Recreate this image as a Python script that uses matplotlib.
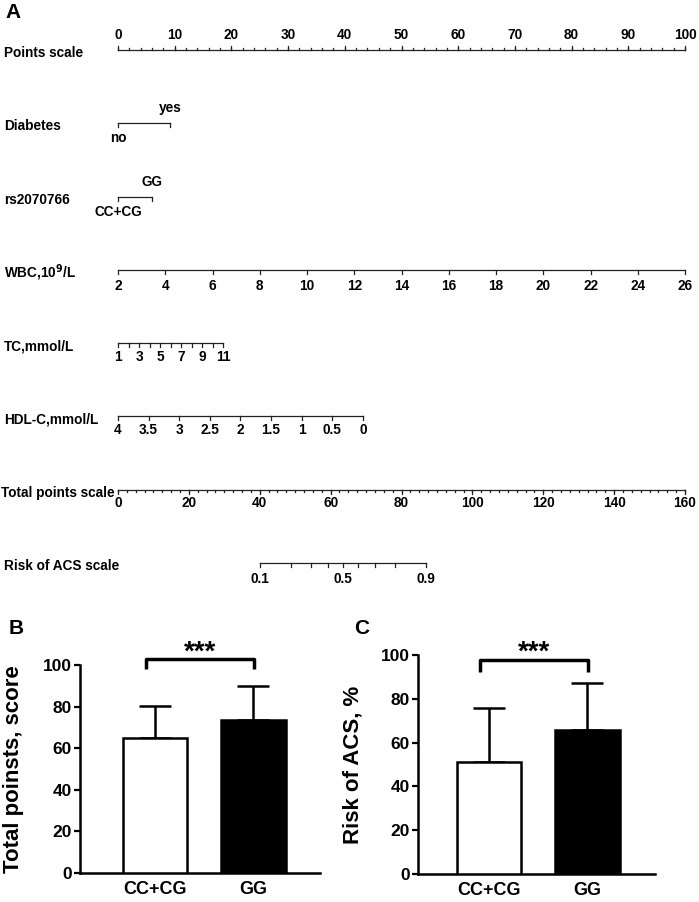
import numpy as np
import matplotlib
matplotlib.use('Agg')
import matplotlib.pyplot as plt
from matplotlib import transforms

plt.rcParams['font.family'] = ['Liberation Sans', 'DejaVu Sans']
plt.rcParams['font.weight'] = 'bold'
plt.rcParams['axes.labelweight'] = 'bold'

# ---- nomogram (panel A) values ----
points_ticks = np.arange(0, 101, 10)
points_minor = np.arange(0, 101, 2)
diabetes_levels = ['no', 'yes']
diabetes_pts = [0, 9.2]
rs_levels = ['CC+CG', 'GG']
rs_pts = [0, 6.0]
wbc_ticks = np.arange(2, 27, 2)
wbc_pts = (0, 100)          # points at 2 and 26
tc_ticks = np.arange(1, 12)
tc_labels = [1, 3, 5, 7, 9, 11]
tc_pts = (0, 18.6)          # points at 1 and 11
hdl_ticks = np.arange(4, -0.01, -0.5)
hdl_labels = ['4', '3.5', '3', '2.5', '2', '1.5', '1', '0.5', '0']
hdl_pts = (0, 43.2)         # points at 4 and 0
total_ticks = np.arange(0, 161, 20)
total_minor = np.arange(0, 161, 2.5)
risk_ticks = [0.1, 0.2, 0.3, 0.4, 0.5, 0.6, 0.7, 0.8, 0.9]
risk_labels = [0.1, 0.5, 0.9]
risk_total = (40.1, 86.8)   # total points at risk 0.1 and 0.9

# ---- bar panels (B, C) ----
genotypes = ['CC+CG', 'GG']
total_mean = [65.0, 73.6]
total_sd = [15.3, 16.4]
risk_mean = [51.2, 65.8]
risk_sd = [24.7, 21.3]

W, H = 699, 902
fig = plt.figure(figsize=(W / 100, H / 100), dpi=100)

ROW = 73.3
TOP = 605
ax = fig.add_axes([118 / W, 1 - TOP / H, 567 / W, TOP / H])
ax.set_xlim(0, 100)
ax.set_ylim((TOP - 50) / ROW, -50 / ROW)
ax.axis('off')

lab_tr = transforms.blended_transform_factory(fig.transFigure, ax.transData)
LW = 0.9
FS = 9.8


def lin(v, v0, v1, p0, p1):
    return p0 + (np.asarray(v, float) - v0) / (v1 - v0) * (p1 - p0)


def px(n):
    return n / ROW


def draw_scale(row, name, xs, tick_len=4, up=False, minor=None, minor_len=2.5):
    ax.plot([min(xs), max(xs)], [row, row], color='#222222', lw=LW, clip_on=False)
    s = -1 if up else 1
    for x in xs:
        ax.plot([x, x], [row, row + s * px(tick_len)], color='#222222', lw=LW, clip_on=False)
    if minor is not None:
        for x in minor:
            ax.plot([x, x], [row, row + s * px(minor_len)], color='#222222', lw=LW, clip_on=False)
    ax.text(4 / W, row + px(3), name, transform=lab_tr, fontsize=FS,
            fontweight='bold', ha='left', va='center')


def put(x, row, dy, txt):
    ax.text(x, row + px(dy), txt, fontsize=FS, fontweight='bold',
            ha='center', va='center', clip_on=False)


# row 0: points
draw_scale(0, 'Points scale', points_ticks, up=True, minor=points_minor)
for v in points_ticks:
    put(v, 0, -15, str(v))

# row 1: diabetes
draw_scale(1, 'Diabetes', diabetes_pts)
put(diabetes_pts[0], 1, 15, diabetes_levels[0])
put(diabetes_pts[1], 1, -15, diabetes_levels[1])

# row 2: rs2070766
draw_scale(2, 'rs2070766', rs_pts)
put(rs_pts[0], 2, 15, rs_levels[0])
put(rs_pts[1], 2, -15, rs_levels[1])

# row 3: WBC
wx = lin(wbc_ticks, 2, 26, *wbc_pts)
draw_scale(3, 'WBC,10$^{\\mathbf{9}}$/L', wx)
for v, x in zip(wbc_ticks, wx):
    put(x, 3, 16, str(v))

# row 4: TC
tx = lin(tc_ticks, 1, 11, *tc_pts)
draw_scale(4, 'TC,mmol/L', tx)
for v in tc_labels:
    put(lin(v, 1, 11, *tc_pts), 4, 14, str(v))

# row 5: HDL-C
hx = lin(hdl_ticks, 4, 0, *hdl_pts)
draw_scale(5, 'HDL-C,mmol/L', hx)
for t, x in zip(hdl_labels, hx):
    put(x, 5, 14, t)

# row 6: total points (0-160 spans the whole points axis)
tot_x = total_ticks / 160 * 100
draw_scale(6, '', tot_x, minor=total_minor / 160 * 100)
ax.text(115 / W, 6 + px(3), 'Total points scale', transform=lab_tr, fontsize=FS,
        fontweight='bold', ha='right', va='center')
for v, x in zip(total_ticks, tot_x):
    put(x, 6, 13, str(v))

# row 7: risk (logit scale)
lg = lambda p: np.log(np.asarray(p) / (1 - np.asarray(p)))
rtot = lin(lg(risk_ticks), lg(0.1), lg(0.9), *risk_total)
draw_scale(7, 'Risk of ACS scale', rtot / 160 * 100)
for p in risk_labels:
    put(lin(lg(p), lg(0.1), lg(0.9), *risk_total) / 160 * 100, 7, 16, str(p))


# ---- bar panels ----
def bar_panel(rect, xlim, means, sds, ylabel, br_top, br_leg, star_y):
    b = fig.add_axes(rect)
    xs = np.arange(len(means))
    b.bar(xs, means, width=0.65, color=['white', 'black'], edgecolor='black',
          linewidth=1.8, zorder=3)
    b.errorbar(xs, means, yerr=[np.zeros(len(sds)), sds], fmt='none', ecolor='black',
               elinewidth=1.8, capsize=11.5, capthick=1.8, zorder=2)
    b.set_xlim(*xlim)
    b.set_ylim(0, 100)
    b.set_yticks(np.arange(0, 101, 20))
    b.set_yticklabels([str(v) for v in range(0, 101, 20)], fontsize=12.5, fontweight='bold')
    b.set_xticks(xs)
    b.set_xticklabels(genotypes, fontsize=13, fontweight='bold')
    b.tick_params(axis='y', width=1.6, length=4, pad=2)
    b.tick_params(axis='x', length=0, pad=6)
    for s in ['top', 'right']:
        b.spines[s].set_visible(False)
    for s in ['left', 'bottom']:
        b.spines[s].set_linewidth(1.8)
    b.set_ylabel(ylabel, fontsize=16, fontweight='bold')
    b.plot([-0.09, -0.09, 1.01, 1.01], [br_leg, br_top, br_top, br_leg],
           color='black', lw=2.5, clip_on=False, solid_capstyle='butt')
    b.text(0.46, star_y, '***', fontsize=20, fontweight='bold',
           ha='center', va='center', clip_on=False)
    return b


bB = bar_panel([80 / W, 1 - 873 / H, 240 / W, 208 / H], (-0.76, 1.675),
               total_mean, total_sd, 'Total poinsts, score', 102.9, 98.1, 106)
bB.yaxis.set_label_coords(-56 / 240, 0.5)
bC = bar_panel([418 / W, 1 - 874 / H, 237 / W, 219 / H], (-0.72, 1.685),
               risk_mean, risk_sd, 'Risk of ACS, %', 97.7, 92.2, 101)
bC.yaxis.set_label_coords(-54 / 237, 0.5)

fig.text(5 / W, 1 - 13 / H, 'A', fontsize=15, fontweight='bold', va='center', ha='left')
fig.text(9 / W, 1 - 629 / H, 'B', fontsize=15, fontweight='bold', va='center', ha='left')
fig.text(354 / W, 1 - 629 / H, 'C', fontsize=15, fontweight='bold', va='center', ha='left')

fig.savefig('out.png', dpi=100)
